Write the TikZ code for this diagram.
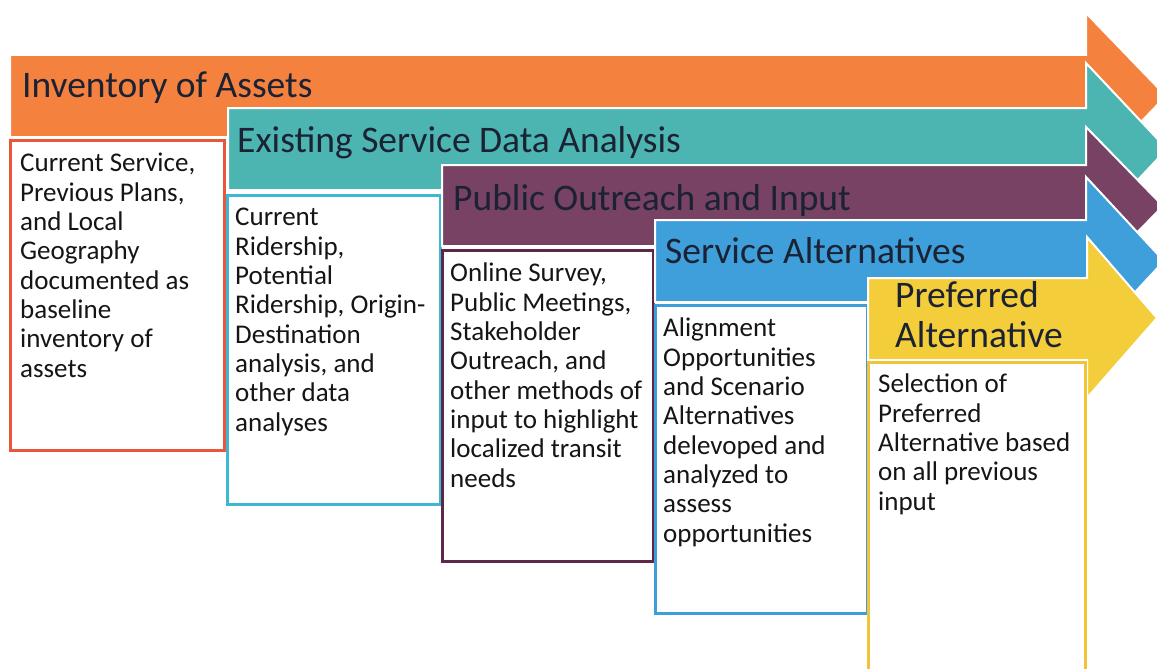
\documentclass[tikz,border=0pt]{standalone}
\usepackage{fontspec}
\setmainfont{Carlito}
\definecolor{stepOrange}{HTML}{F5813F}
\definecolor{stepTeal}{HTML}{4DB5B1}
\definecolor{stepPlum}{HTML}{774264}
\definecolor{stepBlue}{HTML}{3F9FDA}
\definecolor{stepYellow}{HTML}{F4CD3B}
\definecolor{edgeOrange}{HTML}{E8573C}
\definecolor{edgeTeal}{HTML}{3DB7D2}
\definecolor{edgePlum}{HTML}{5E2748}
\definecolor{edgeBlue}{HTML}{3C9FDB}
\definecolor{edgeYellow}{HTML}{F0C43A}
\definecolor{titleink}{HTML}{1B2233}
\definecolor{bodyink}{HTML}{151515}
\begin{document}
% multi-line nodes are placed by the baseline of their last line
\begin{tikzpicture}[x=1pt,y=-1pt,
  steptitle/.style={font=\fontsize{37.5}{40}\selectfont, text=titleink, anchor=base west, inner sep=0pt, align=left},
  stepbody/.style={font=\fontsize{27}{29.3}\selectfont, text=bodyink, anchor=base west, inner sep=0pt, align=left},
  band/.style={draw=white, line width=2pt, line join=miter},
  card/.style={fill=white, line width=3pt}]
\clip (0,0) rectangle (1157,669);

% step 1: inventory
\path[band, fill=stepOrange] (10,55) -- (1086,55) -- (1086,13) -- (1166,96) -- (1086,179) -- (1086,137) -- (10,137) -- cycle;
\node[steptitle] (t1) at (22,97) {Inventory of Assets};
\draw[card, draw=edgeOrange] (10,140) rectangle (224,450);
\node[stepbody] (b1) at (20,377) {Current Service,\\Previous Plans,\\and Local\\Geography\\documented as\\baseline\\inventory of\\assets};

% step 2: existing service data
\path[band, fill=stepTeal] (228,108) -- (1086,108) -- (1086,63) -- (1167,149) -- (1086,235) -- (1086,190) -- (228,190) -- cycle;
\node[steptitle] (t2) at (237,152) {Existing Service Data Analysis};
\draw[card, draw=edgeTeal] (227,195) rectangle (440,504);
\node[stepbody] (b2) at (235,431) {Current\\Ridership,\\Potential\\Ridership, Origin-\\Destination\\analysis, and\\other data\\analyses};

% step 3: public outreach
\path[band, fill=stepPlum] (442,165) -- (1086,165) -- (1086,127) -- (1163,206) -- (1086,285) -- (1086,246) -- (442,246) -- cycle;
\node[steptitle] (t3) at (453,210) {Public Outreach and Input};
\draw[card, draw=edgePlum] (442,250) rectangle (653,561);
\node[stepbody] (b3) at (450,487) {Online Survey,\\Public Meetings,\\Stakeholder\\Outreach, and\\other methods of\\input to highlight\\localized transit\\needs};

% step 4: service alternatives
\path[band, fill=stepBlue] (655,220) -- (1086,220) -- (1086,177) -- (1164,261) -- (1086,345) -- (1086,302) -- (655,302) -- cycle;
\node[steptitle] (t4) at (665,263) {Service Alternatives};
\draw[card, draw=edgeBlue] (655,305) rectangle (867,613);
\node[stepbody] (b4) at (663,542) {Alignment\\Opportunities\\and Scenario\\Alternatives\\delevoped and\\analyzed to\\assess\\opportunities};

% step 5: preferred alternative
\path[band, fill=stepYellow] (868,278) -- (1087,278) -- (1087,237) -- (1157,318) -- (1087,398) -- (1087,360) -- (868,360) -- cycle;
\node[steptitle] (t5) at (895,347) {Preferred\\Alternative};
\draw[card, draw=edgeYellow] (868,362) rectangle (1085,680);
\node[stepbody] (b5) at (878,510) {Selection of\\Preferred\\Alternative based\\on all previous\\input};
\end{tikzpicture}
\end{document}
